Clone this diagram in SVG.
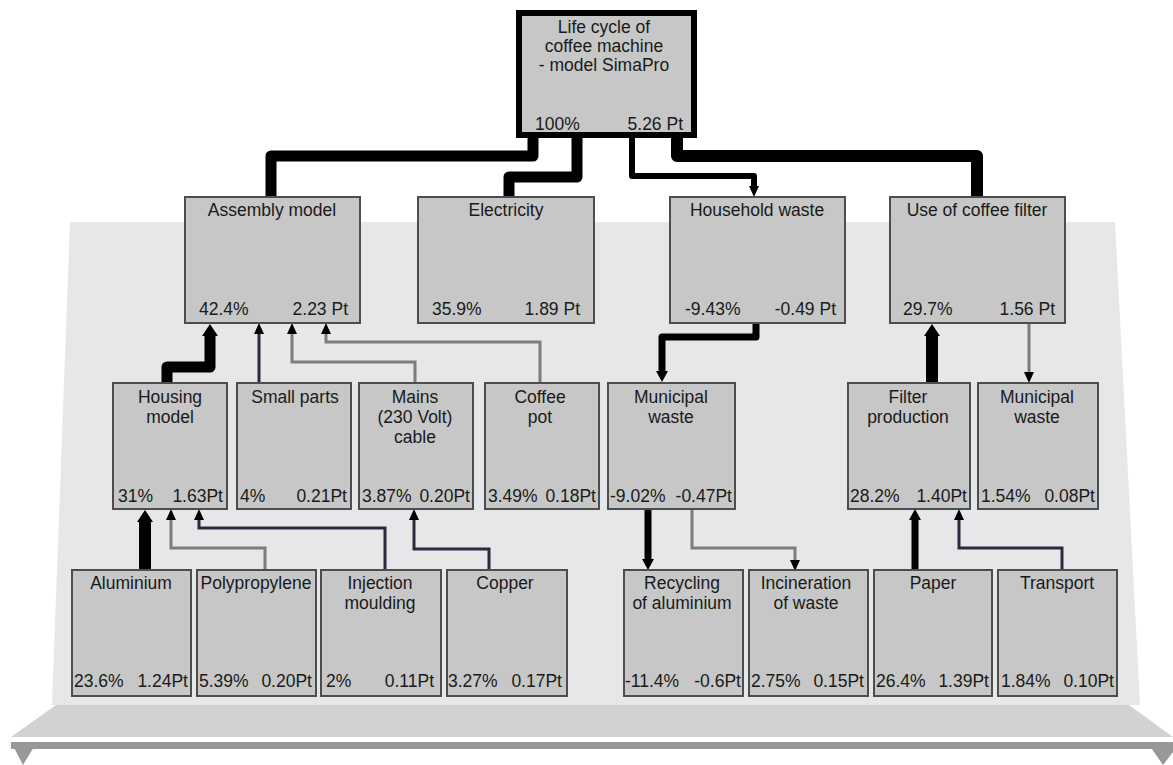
<svg xmlns="http://www.w3.org/2000/svg" width="1173" height="765" viewBox="0 0 1173 765">
<style>
.bx{fill:#c6c7c6;stroke:#4d4d4d;stroke-width:2}
.top{fill:#c6c7c6;stroke:#000;stroke-width:6}
text{font-family:"Liberation Sans",Arial,sans-serif;font-size:17.5px;fill:#1a1a1a}
.c{text-anchor:middle}
.e{text-anchor:end}
.k{fill:none;stroke:#000;stroke-linejoin:round}
.n{fill:none;stroke:#2b2a40;stroke-width:3}
.g{fill:none;stroke:#7d7d7d;stroke-width:3}
</style>
<defs>
<marker id="a" markerUnits="userSpaceOnUse" markerWidth="12" markerHeight="12" refX="0" refY="5" orient="auto" overflow="visible"><path d="M0,0 L11,5 L0,10 Z" fill="#000"/></marker>
<marker id="am" markerUnits="userSpaceOnUse" markerWidth="14" markerHeight="14" refX="0" refY="6" orient="auto" overflow="visible"><path d="M0,0 L11,6 L0,12 Z" fill="#000"/></marker>
<marker id="ab" markerUnits="userSpaceOnUse" markerWidth="16" markerHeight="16" refX="0" refY="8" orient="auto" overflow="visible"><path d="M0,0 L12,8 L0,16 Z" fill="#000"/></marker>
</defs>
<rect width="1173" height="765" fill="#fff"/>
<g id="stage">
<polygon points="70,222 1115,222 1140,705 52,705" fill="#e6e7e8"/>
<polygon points="56,705 1129,705 1173,737 11,737" fill="#d1d2d4"/>
<rect x="11" y="742" width="1162" height="7" fill="#97989a"/>
<polygon points="11,742 37,742 23,765" fill="#97989a"/>
<polygon points="1147,742 1173,742 1173,752 1163,765" fill="#97989a"/>
</g>
<g id="connectors">
<path class="k" stroke-width="11" d="M533,136 V156 H271 V197"/>
<path class="k" stroke-width="11" d="M577,136 V177 H509 V197"/>
<path class="k" stroke-width="6" d="M632,136 V176 H754 V186" marker-end="url(#a)"/>
<path class="k" stroke-width="12" d="M677,136 V156 H977 V197"/>
<path class="k" stroke-width="11" d="M167,383 V367 H210 V336" marker-end="url(#ab)"/>
<path class="n" d="M259,383 V334" marker-end="url(#a)"/>
<path class="g" d="M415,383 V362 H292 V334" marker-end="url(#a)"/>
<path class="g" d="M540,383 V342 H326 V334" marker-end="url(#a)"/>
<path class="k" stroke-width="12" d="M145,570 V522" marker-end="url(#ab)"/>
<path class="g" d="M265,570 V548 H171 V520" marker-end="url(#a)"/>
<path class="n" d="M385,570 V528 H199 V520" marker-end="url(#a)"/>
<path class="n" d="M489,570 V549 H414 V520" marker-end="url(#a)"/>
<path class="k" stroke-width="7" d="M756,323 V337 H662 V371" marker-end="url(#am)"/>
<path class="k" stroke-width="7" d="M648,509 V559" marker-end="url(#am)"/>
<path class="g" d="M692,509 V548 H795 V560" marker-end="url(#a)"/>
<path class="k" stroke-width="12" d="M932,383 V336" marker-end="url(#ab)"/>
<path class="g" d="M1029,323 V372" marker-end="url(#a)"/>
<path class="k" stroke-width="7" d="M915,570 V520" marker-end="url(#am)"/>
<path class="n" d="M1062,570 V548 H959 V520" marker-end="url(#a)"/>
</g>
<g id="n-root"><rect class="top" x="519" y="13" width="175" height="122"/>
<text class="c" x="604" y="33">Life cycle of</text><text class="c" x="604" y="52">coffee machine</text><text class="c" x="604" y="71">- model SimaPro</text>
<text x="535" y="130">100%</text><text class="e" x="683" y="130">5.26 Pt</text></g>
<g id="n-assembly"><rect class="bx" x="185" y="197" width="175" height="126"/>
<text class="c" x="272" y="216">Assembly model</text><text x="199" y="315">42.4%</text><text class="e" x="348" y="315">2.23 Pt</text></g>
<g id="n-electricity"><rect class="bx" x="418" y="197" width="176" height="126"/>
<text class="c" x="506" y="216">Electricity</text><text x="432" y="315">35.9%</text><text class="e" x="580" y="315">1.89 Pt</text></g>
<g id="n-household"><rect class="bx" x="670" y="197" width="175" height="126"/>
<text class="c" x="757" y="216">Household waste</text><text x="685" y="315">-9.43%</text><text class="e" x="836" y="315">-0.49 Pt</text></g>
<g id="n-filteruse"><rect class="bx" x="890" y="197" width="175" height="126"/>
<text class="c" x="977" y="216">Use of coffee filter</text><text x="903" y="315">29.7%</text><text class="e" x="1055" y="315">1.56 Pt</text></g>
<g id="n-housing"><rect class="bx" x="113" y="383" width="114" height="126"/>
<text class="c" x="170" y="403">Housing</text><text class="c" x="170" y="423">model</text><text x="118" y="502">31%</text><text class="e" x="223" y="502">1.63Pt</text></g>
<g id="n-small"><rect class="bx" x="237" y="383" width="114" height="126"/>
<text class="c" x="295" y="403">Small parts</text><text x="240" y="502">4%</text><text class="e" x="347" y="502">0.21Pt</text></g>
<g id="n-mains"><rect class="bx" x="359" y="383" width="114" height="126"/>
<text class="c" x="415" y="403">Mains</text><text class="c" x="415" y="423">(230 Volt)</text><text class="c" x="415" y="443">cable</text><text x="362" y="502">3.87%</text><text class="e" x="470" y="502">0.20Pt</text></g>
<g id="n-pot"><rect class="bx" x="485" y="383" width="114" height="126"/>
<text class="c" x="540" y="403">Coffee</text><text class="c" x="540" y="423">pot</text><text x="488" y="502">3.49%</text><text class="e" x="596" y="502">0.18Pt</text></g>
<g id="n-municipal1"><rect class="bx" x="608" y="383" width="127" height="126"/>
<text class="c" x="671" y="403">Municipal</text><text class="c" x="671" y="423">waste</text><text x="610" y="502">-9.02%</text><text class="e" x="732" y="502">-0.47Pt</text></g>
<g id="n-filterprod"><rect class="bx" x="848" y="383" width="122" height="126"/>
<text class="c" x="908" y="403">Filter</text><text class="c" x="908" y="423">production</text><text x="850" y="502">28.2%</text><text class="e" x="967" y="502">1.40Pt</text></g>
<g id="n-municipal2"><rect class="bx" x="978" y="383" width="120" height="126"/>
<text class="c" x="1037" y="403">Municipal</text><text class="c" x="1037" y="423">waste</text><text x="981" y="502">1.54%</text><text class="e" x="1095" y="502">0.08Pt</text></g>
<g id="n-aluminium"><rect class="bx" x="72" y="570" width="119" height="126"/>
<text class="c" x="131" y="589">Aluminium</text><text x="74" y="687">23.6%</text><text class="e" x="188" y="687">1.24Pt</text></g>
<g id="n-polypropylene"><rect class="bx" x="197" y="570" width="119" height="126"/>
<text class="c" x="256" y="589">Polypropylene</text><text x="199" y="687">5.39%</text><text class="e" x="312" y="687">0.20Pt</text></g>
<g id="n-injection"><rect class="bx" x="321" y="570" width="120" height="126"/>
<text class="c" x="380" y="589">Injection</text><text class="c" x="380" y="609">moulding</text><text x="326" y="687">2%</text><text class="e" x="434" y="687">0.11Pt</text></g>
<g id="n-copper"><rect class="bx" x="447" y="570" width="120" height="126"/>
<text class="c" x="505" y="589">Copper</text><text x="448" y="687">3.27%</text><text class="e" x="562" y="687">0.17Pt</text></g>
<g id="n-recycling"><rect class="bx" x="624" y="570" width="119" height="126"/>
<text class="c" x="682" y="589">Recycling</text><text class="c" x="682" y="609">of aluminium</text><text x="625" y="687">-11.4%</text><text class="e" x="741" y="687">-0.6Pt</text></g>
<g id="n-incineration"><rect class="bx" x="749" y="570" width="119" height="126"/>
<text class="c" x="806" y="589">Incineration</text><text class="c" x="806" y="609">of waste</text><text x="751" y="687">2.75%</text><text class="e" x="864" y="687">0.15Pt</text></g>
<g id="n-paper"><rect class="bx" x="874" y="570" width="118" height="126"/>
<text class="c" x="933" y="589">Paper</text><text x="876" y="687">26.4%</text><text class="e" x="989" y="687">1.39Pt</text></g>
<g id="n-transport"><rect class="bx" x="998" y="570" width="119" height="126"/>
<text class="c" x="1057" y="589">Transport</text><text x="1001" y="687">1.84%</text><text class="e" x="1114" y="687">0.10Pt</text></g>
</svg>
